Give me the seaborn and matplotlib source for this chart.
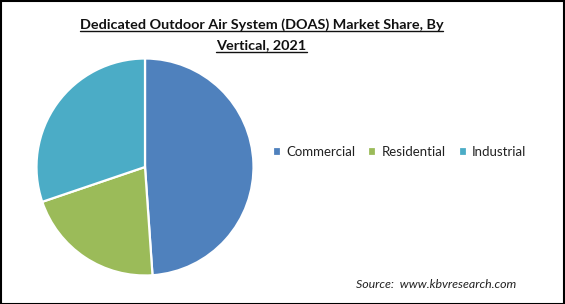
import matplotlib
matplotlib.use("Agg")
import matplotlib.pyplot as plt
import seaborn as sns
from matplotlib.patches import Rectangle

sns.set_style("white")
plt.rcParams['font.family'] = ['Lato', 'DejaVu Sans']

categories = ["Commercial", "Residential", "Industrial"]
shares = [48.9, 20.9, 30.2]
colors = ["#4F81BD", "#9BBB59", "#4BACC6"]
title_lines = ["Dedicated Outdoor Air System (DOAS) Market Share, By", "Vertical, 2021"]
source = "Source:  www.kbvresearch.com"

W, H = 565, 304
fig = plt.figure(figsize=(W / 100, H / 100), dpi=100)
fig.patch.set_facecolor("white")

cx, cy, r = 145, 167, 108.5
ax = fig.add_axes([(cx - r) / W, (H - cy - r) / H, 2 * r / W, 2 * r / H])
wedges, _ = ax.pie(shares, colors=colors, startangle=90, counterclock=False,
                   wedgeprops=dict(edgecolor="white", linewidth=1.6))
ax.set_xlim(-1.0, 1.0)
ax.set_ylim(-1.0, 1.0)
ax.set_aspect("equal")
ax.axis("off")

renderer = fig.canvas.get_renderer()
for line, ybase in zip(title_lines, [28.5, 49.5]):
    t = fig.text(261.5 / W, 1 - ybase / H, line, ha="center", va="baseline",
                 fontsize=10.4, fontweight="bold", color="#111111")
    bb = t.get_window_extent(renderer)
    uy = 1 - (ybase + 2.2) / H
    fig.add_artist(plt.Line2D([bb.x0 / W, bb.x1 / W], [uy, uy],
                              color="#111111", linewidth=1.0))

leg = fig.legend(wedges, categories, loc="center left",
                 bbox_to_anchor=(261 / W, 1 - 152 / H), ncol=3, frameon=False,
                 fontsize=9.5, handlelength=0.6, handleheight=0.6,
                 handletextpad=0.4, columnspacing=1.0)
for t in leg.get_texts():
    t.set_color("#222222")

fig.text(356 / W, 1 - 285 / H, source, ha="left", va="center",
         fontsize=8.9, style="italic", color="#222222")

fig.add_artist(Rectangle((0.5 / W, 0.5 / H), 1 - 1.5 / W, 1 - 1.5 / H,
                         transform=fig.transFigure, fill=False,
                         edgecolor="black", linewidth=1.5))

fig.savefig("out.png", dpi=100)
